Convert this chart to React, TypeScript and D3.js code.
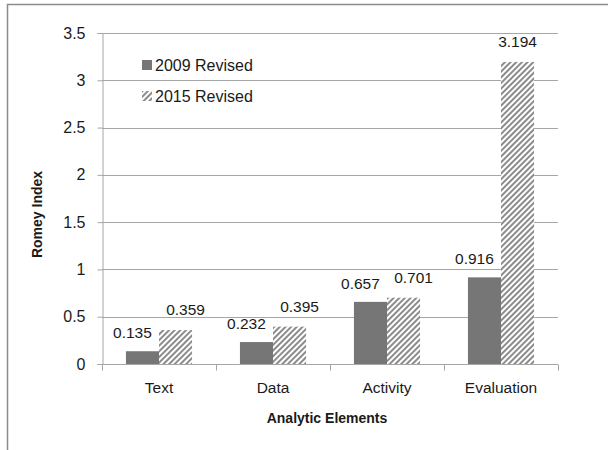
import React, { useEffect, useRef } from 'react';
import * as d3 from 'd3';

const categories = ['Text', 'Data', 'Activity', 'Evaluation'];
const series = ['2009 Revised', '2015 Revised'];
const values2009 = [0.135, 0.232, 0.657, 0.916];
const values2015 = [0.359, 0.395, 0.701, 3.194];
const yTicks = [0, 0.5, 1, 1.5, 2, 2.5, 3, 3.5];

const width = 608;
const height = 450;
const plot = { left: 102, right: 558, top: 33, bottom: 364 };
const font = '"Liberation Sans", Arial, sans-serif';
const solid = '#767676';
const gridColor = '#a6a6a6';

const x = d3.scaleBand()
  .domain(categories)
  .range([plot.left, plot.right])
  .paddingInner(0.42)
  .paddingOuter(0.21);

const xSub = d3.scaleBand()
  .domain(series)
  .range([0, x.bandwidth()]);

const y = d3.scaleLinear()
  .domain([0, 3.5])
  .range([plot.bottom, plot.top]);

export default function App() {
  const ref = useRef(null);

  useEffect(() => {
    const svg = d3.select(ref.current);
    svg.selectAll('*').remove();

    // hatch for the 2015 bars
    const pat = svg.append('defs').append('pattern')
      .attr('id', 'hatch')
      .attr('patternUnits', 'userSpaceOnUse')
      .attr('width', 4)
      .attr('height', 4)
      .attr('patternTransform', 'rotate(45)');
    pat.append('rect').attr('width', 4).attr('height', 4).attr('fill', '#fff');
    pat.append('line')
      .attr('x1', 1).attr('y1', 0).attr('x2', 1).attr('y2', 4)
      .attr('stroke', '#6e6e6e')
      .attr('stroke-width', 1.6);

    // outer chart border (only top and left visible)
    svg.append('path')
      .attr('d', `M7.5,${height} L7.5,4.5 L${width},4.5`)
      .attr('fill', 'none')
      .attr('stroke', '#8c8c8c')
      .attr('stroke-width', 1.5);

    // gridlines
    svg.append('g')
      .selectAll('line')
      .data(yTicks.filter(d => d > 0))
      .enter().append('line')
      .attr('x1', plot.left).attr('x2', plot.right)
      .attr('y1', d => Math.round(y(d)) + 0.5)
      .attr('y2', d => Math.round(y(d)) + 0.5)
      .attr('stroke', gridColor);

    // y axis
    const yAxisGroup = svg.append('g')
      .attr('transform', `translate(${plot.left + 0.5},0)`)
      .call(d3.axisLeft(y).tickValues(yTicks).tickSize(5).tickPadding(12).tickFormat(d3.format('')));
    yAxisGroup.select('path').attr('stroke', gridColor);
    yAxisGroup.selectAll('line').attr('stroke', gridColor);
    yAxisGroup.selectAll('text')
      .attr('font-family', font)
      .attr('font-size', 16)
      .attr('fill', '#1a1a1a');

    // x axis
    const xAxisGroup = svg.append('g')
      .attr('transform', `translate(0,${plot.bottom + 0.5})`)
      .call(d3.axisBottom(x).tickSize(0).tickPadding(17));
    xAxisGroup.select('path').attr('stroke', gridColor).attr('d', `M${plot.left},0H${plot.right}`);
    xAxisGroup.selectAll('text')
      .attr('font-family', font)
      .attr('font-size', 15.5)
      .attr('fill', '#1a1a1a');
    const step = x.step();
    const bounds = d3.range(categories.length + 1).map(i => plot.left + i * step);
    xAxisGroup.selectAll('line.sep')
      .data(bounds)
      .enter().append('line')
      .attr('class', 'sep')
      .attr('x1', d => Math.round(d) + 0.5).attr('x2', d => Math.round(d) + 0.5)
      .attr('y1', 0).attr('y2', 6)
      .attr('stroke', gridColor);

    // bars
    const bars = svg.append('g');
    bars.selectAll('rect.b09')
      .data(values2009)
      .enter().append('rect')
      .attr('class', 'b09')
      .attr('x', (d, i) => x(categories[i]) + xSub(series[0]))
      .attr('y', d => y(d))
      .attr('width', xSub.bandwidth())
      .attr('height', d => plot.bottom - y(d))
      .attr('fill', solid);
    bars.selectAll('rect.b15')
      .data(values2015)
      .enter().append('rect')
      .attr('class', 'b15')
      .attr('x', (d, i) => x(categories[i]) + xSub(series[1]))
      .attr('y', d => y(d))
      .attr('width', xSub.bandwidth())
      .attr('height', d => plot.bottom - y(d))
      .attr('fill', 'url(#hatch)');

    // data labels, nudged apart when they would collide
    const labels = svg.append('g')
      .attr('font-family', font)
      .attr('font-size', 15.5)
      .attr('fill', '#1a1a1a')
      .attr('text-anchor', 'middle');
    const close = (i) => Math.abs(y(values2009[i]) - y(values2015[i])) < 40;
    labels.selectAll('text.l09')
      .data(values2009)
      .enter().append('text')
      .attr('class', 'l09')
      .attr('x', (d, i) => x(categories[i]) + xSub(series[0]) + xSub.bandwidth() / 2 - 10)
      .attr('y', d => y(d) - 13)
      .text(d => d3.format('.3f')(d));
    labels.selectAll('text.l15')
      .data(values2015)
      .enter().append('text')
      .attr('class', 'l15')
      .attr('x', (d, i) => x(categories[i]) + xSub(series[1]) + xSub.bandwidth() / 2 + (close(i) ? 10 : 0))
      .attr('y', d => y(d) - 15)
      .text(d => d3.format('.3f')(d));

    // axis titles
    svg.append('text')
      .attr('transform', `translate(42,${(plot.top + plot.bottom) / 2 + 16}) rotate(-90)`)
      .attr('text-anchor', 'middle')
      .attr('font-family', font)
      .attr('font-size', 14)
      .attr('font-weight', 'bold')
      .attr('fill', '#1a1a1a')
      .text('Romey Index');
    svg.append('text')
      .attr('x', (plot.left + plot.right) / 2 - 3)
      .attr('y', 423)
      .attr('text-anchor', 'middle')
      .attr('font-family', font)
      .attr('font-size', 14)
      .attr('font-weight', 'bold')
      .attr('fill', '#1a1a1a')
      .text('Analytic Elements');

    // legend
    const legend = svg.append('g').attr('font-family', font).attr('font-size', 16).attr('fill', '#1a1a1a');
    const legendY = d3.scalePoint().domain(series).range([65, 96]);
    legend.selectAll('rect')
      .data(series)
      .enter().append('rect')
      .attr('x', 142)
      .attr('y', d => legendY(d) - 5)
      .attr('width', 10)
      .attr('height', 10)
      .attr('fill', (d, i) => (i === 0 ? solid : 'url(#hatch)'));
    legend.selectAll('text')
      .data(series)
      .enter().append('text')
      .attr('x', 155)
      .attr('y', d => legendY(d) + 6)
      .text(d => d);
  }, []);

  return (
    <svg
      ref={ref}
      width={width}
      height={height}
      style={{ position: 'absolute', left: 0, top: 0, background: '#fff' }}
    />
  );
}
